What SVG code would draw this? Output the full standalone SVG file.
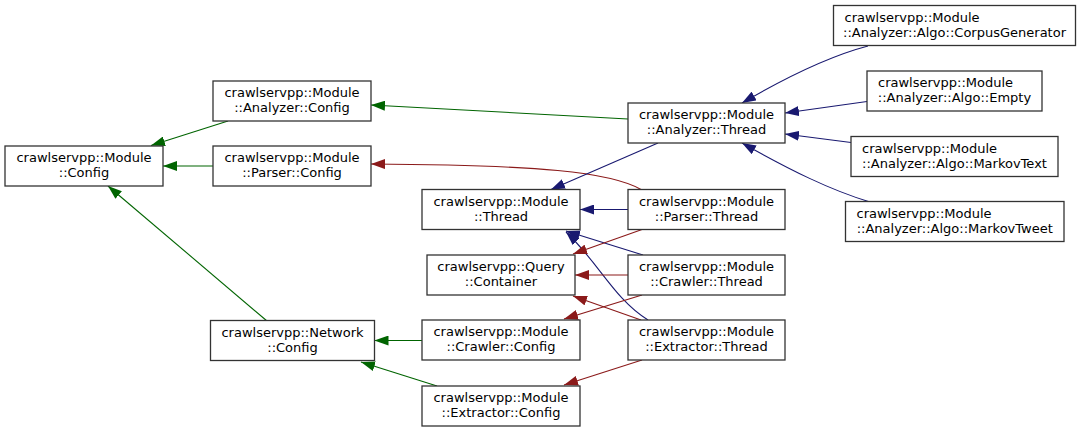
<svg xmlns="http://www.w3.org/2000/svg" width="1081" height="432" viewBox="0 0 1081 432">
<defs>
<style>
.n rect{fill:#fff;stroke:#333;stroke-width:1.3}
.n text{font-family:"DejaVu Sans",sans-serif;font-size:13px;fill:#000}
.m{text-anchor:middle}
.e path{fill:none;stroke-width:1.1}
.g{stroke:#006400;marker-end:url(#ag)}
.r{stroke:#8b1a1a;marker-end:url(#ar)}
.b{stroke:#191970;marker-end:url(#ab)}
</style>
<marker id="ag" viewBox="0 0 14 10" refX="14" refY="5" markerWidth="14" markerHeight="10" markerUnits="userSpaceOnUse" orient="auto"><path d="M0,0 L14,5 L0,10 z" fill="#006400"/></marker>
<marker id="ar" viewBox="0 0 14 10" refX="14" refY="5" markerWidth="14" markerHeight="10" markerUnits="userSpaceOnUse" orient="auto"><path d="M0,0 L14,5 L0,10 z" fill="#8b1a1a"/></marker>
<marker id="ab" viewBox="0 0 14 10" refX="14" refY="5" markerWidth="14" markerHeight="10" markerUnits="userSpaceOnUse" orient="auto"><path d="M0,0 L14,5 L0,10 z" fill="#191970"/></marker>
</defs>
<rect width="1081" height="432" fill="#fff"/>
<g id="edges" class="e">
<path class="g" d="M228,121 L151,145.5"/>
<path class="g" d="M213,166 L163,166"/>
<path class="g" d="M267,321 L108,186"/>
<path class="g" d="M628,119 L371,105"/>
<path class="r" d="M641,189.5 C610,172 540,165 371,164"/>
<path class="b" d="M658,143 L551,189.5"/>
<path class="b" d="M628,209.5 L580,209.5"/>
<path class="b" d="M643,255 L566,231"/>
<path class="b" d="M648,320 C615,300 598,262 566,232"/>
<path class="r" d="M642,229.5 L573,254"/>
<path class="r" d="M628,275 L575,275"/>
<path class="r" d="M641,320 L573,296"/>
<path class="r" d="M642,295 L564,319"/>
<path class="r" d="M642,360 L564,385"/>
<path class="g" d="M422,340.5 L374.5,340.5"/>
<path class="g" d="M437,386 L361,362"/>
<path class="b" d="M868,46 C830,56 790,75 742,103"/>
<path class="b" d="M867,101.5 L785,113"/>
<path class="b" d="M851,142.5 L785,134"/>
<path class="b" d="M870,202 C830,190 790,170 742,143"/>
</g>
<g id="module-config" class="n"><rect x="5" y="146" width="158" height="40"/><text class="m" x="84" y="162">crawlservpp::Module</text><text class="m" x="84" y="177">::Config</text></g>
<g id="analyzer-config" class="n"><rect x="213" y="81" width="158" height="40"/><text class="m" x="292" y="97">crawlservpp::Module</text><text class="m" x="292" y="112">::Analyzer::Config</text></g>
<g id="parser-config" class="n"><rect x="213" y="146" width="158" height="40"/><text class="m" x="292" y="162">crawlservpp::Module</text><text class="m" x="292" y="177">::Parser::Config</text></g>
<g id="network-config" class="n"><rect x="210.5" y="320.5" width="164" height="40"/><text class="m" x="292.5" y="336.5">crawlservpp::Network</text><text class="m" x="292.5" y="351.5">::Config</text></g>
<g id="module-thread" class="n"><rect x="422" y="189.5" width="158" height="40"/><text class="m" x="501" y="205.5">crawlservpp::Module</text><text class="m" x="501" y="220.5">::Thread</text></g>
<g id="query-container" class="n"><rect x="427" y="255" width="148" height="40"/><text class="m" x="501" y="271">crawlservpp::Query</text><text class="m" x="501" y="286">::Container</text></g>
<g id="crawler-config" class="n"><rect x="422" y="320" width="158" height="40"/><text class="m" x="501" y="336">crawlservpp::Module</text><text class="m" x="501" y="351">::Crawler::Config</text></g>
<g id="extractor-config" class="n"><rect x="422" y="386" width="158" height="40"/><text class="m" x="501" y="402">crawlservpp::Module</text><text class="m" x="501" y="417">::Extractor::Config</text></g>
<g id="analyzer-thread" class="n"><rect x="628" y="103" width="157" height="40"/><text class="m" x="706.5" y="119">crawlservpp::Module</text><text class="m" x="706.5" y="134">::Analyzer::Thread</text></g>
<g id="parser-thread" class="n"><rect x="628" y="189.5" width="157" height="40"/><text class="m" x="706.5" y="205.5">crawlservpp::Module</text><text class="m" x="706.5" y="220.5">::Parser::Thread</text></g>
<g id="crawler-thread" class="n"><rect x="628" y="255" width="157" height="40"/><text class="m" x="706.5" y="271">crawlservpp::Module</text><text class="m" x="706.5" y="286">::Crawler::Thread</text></g>
<g id="extractor-thread" class="n"><rect x="628" y="320" width="157" height="40"/><text class="m" x="706.5" y="336">crawlservpp::Module</text><text class="m" x="706.5" y="351">::Extractor::Thread</text></g>
<g id="algo-corpusgenerator" class="n"><rect x="833.5" y="5.5" width="242" height="40"/><text x="844.5" y="21.5">crawlservpp::Module</text><text class="m" x="954.5" y="36.5">::Analyzer::Algo::CorpusGenerator</text></g>
<g id="algo-empty" class="n"><rect x="867" y="71" width="175" height="40"/><text x="878" y="87">crawlservpp::Module</text><text class="m" x="954.5" y="102">::Analyzer::Algo::Empty</text></g>
<g id="algo-markovtext" class="n"><rect x="851" y="136.5" width="207" height="40"/><text x="862" y="152.5">crawlservpp::Module</text><text class="m" x="954.5" y="167.5">::Analyzer::Algo::MarkovText</text></g>
<g id="algo-markovtweet" class="n"><rect x="845.5" y="201.5" width="218.5" height="40"/><text x="856.5" y="217.5">crawlservpp::Module</text><text class="m" x="954.75" y="232.5">::Analyzer::Algo::MarkovTweet</text></g>
</svg>
